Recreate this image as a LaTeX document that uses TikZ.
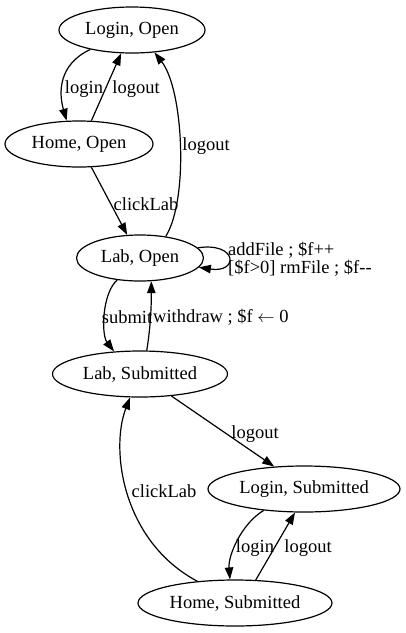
\documentclass[tikz,border=0pt]{standalone}
\usepackage{fontspec}
\setmainfont{Liberation Serif}
\usetikzlibrary{shapes.geometric,arrows.meta}

\begin{document}
\begin{tikzpicture}[x=1pt,y=-1pt,
  st/.style={draw,ellipse,line width=1.2pt,inner sep=0pt,minimum height=46pt,font=\fs},
  edge/.style={line width=1.2pt,-{Triangle[length=12pt,width=8.5pt]}},
  lbl/.style={inner sep=0pt,font=\fs}]
\newcommand{\fs}{\fontsize{18.5}{17.5}\selectfont}
\useasboundingbox (0,0) rectangle (406,633);

% Draw the six states
\node[st,minimum width=146pt] (lo) at (132,30) {Login, Open};
\node[st,minimum width=148pt] (ho) at (79,144) {Home, Open};
\node[st,minimum width=127pt] (lab) at (140,258) {Lab, Open};
\node[st,minimum width=175pt] (ls) at (140,374) {Lab, Submitted};
\node[st,minimum width=192pt] (lsub) at (304,489) {Login, Submitted};
\node[st,minimum width=194pt] (hs) at (235,603) {Home, Submitted};

% Draw the transitions of the open part
\draw[edge] (lo.205) .. controls +(-32,15) and +(-8,-28) .. (ho.118);
\draw[edge] (ho.62) -- (lo.245);
\draw[edge] (ho.298) -- (lab.119);
\draw[edge] (lab.40) .. controls +(23,-37) and +(29,37) .. (lo.315);
\draw[edge] (lab.10) .. controls +(40,-6) and +(40,6) .. (lab.351);
\draw[edge] (lab.224) .. controls +(-15,13) and +(-13,-17) .. (ls.139);
\draw[edge] (ls.74) .. controls +(4,-25) and +(0,25) .. (lab.296);

% Draw the transitions of the submitted part
\draw[edge] (ls.325) -- (lsub.143);
\draw[edge] (hs.150) .. controls +(-75,-40) and +(-20,52) .. (ls.247);
\draw[edge] (lsub.208) .. controls +(-22,13) and +(-2,-24) .. (hs.102);
\draw[edge] (hs.48) -- (lsub.249);

% Add labels
\node[lbl] (l1) at (84,89) {login};
\node[lbl] (l2) at (136,89) {logout};
\node[lbl] (l3) at (146,204) {clickLab};
\node[lbl] (l4) at (206,146) {logout};
\node[lbl,anchor=west,align=left] (l5) at (228,259) {addFile ; \$f++\\{}[\$f>0] rmFile ; \$f-{}-};
\node[lbl] (l6) at (127,317) {submit};
\node[lbl,anchor=west] (l7) at (153,317) {withdraw ; \$f $\leftarrow$ 0};
\node[lbl] (l8) at (255,434) {logout};
\node[lbl] (l9) at (164,491) {clickLab};
\node[lbl] (l10) at (255,548) {login};
\node[lbl] (l11) at (308,548) {logout};

\end{tikzpicture}
\end{document}
